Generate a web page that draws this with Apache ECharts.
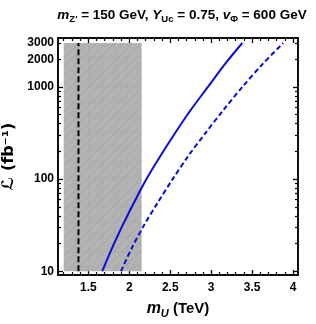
<!DOCTYPE html>
<html>
<head>
<meta charset="utf-8">
<script src="https://cdn.jsdelivr.net/npm/echarts@6/dist/echarts.min.js"></script>
<style>html,body{margin:0;padding:0;background:#fff}#c{width:316px;height:324px}</style>
</head>
<body>
<div id="c"></div>
<script>
// ---- data ----
const solidMass = [1.67, 1.79, 1.92, 2.06, 2.21, 2.38, 2.56, 2.75, 2.96, 3.17, 3.38];
const solidLumi = [10, 17.8, 31.6, 56, 100, 178, 316, 562, 1000, 1780, 3000];
const dashedMass = [1.90, 2.03, 2.18, 2.35, 2.53, 2.72, 2.93, 3.15, 3.38, 3.63, 3.88];
const dashedLumi = [10, 17.8, 31.6, 56, 100, 178, 316, 562, 1000, 1780, 3000];
const refMass = [1.38, 1.38];
const refLumi = [10, 3000];
const excludedMass = [1.2, 2.15];
const excludedLumi = [10, 3000];
const xLabelTicks = [1.5, 2, 2.5, 3, 3.5, 4];
const xMinorTicks = [1.2,1.3,1.4,1.6,1.7,1.8,1.9,2.1,2.2,2.3,2.4,2.6,2.7,2.8,2.9,3.1,3.2,3.3,3.4,3.6,3.7,3.8,3.9];
const yLabelTicks = [10, 100, 1000, 2000, 3000];
const yMajorTicks = [10, 100, 1000];
const yMinorTicks = [20,30,40,50,60,70,80,90,200,300,400,500,600,700,800,900,2000,3000];

const FONT = 'Liberation Sans';
const zip = (a, b) => a.map((v, i) => [v, b[i]]);

const chart = echarts.init(document.getElementById('c'), null, {renderer: 'canvas'});

const xBase = {type: 'value', min: 1.13, max: 4.06, splitLine: {show: false},
  axisLine: {show: true, onZero: false, lineStyle: {color: '#000', width: 1.5}}};
const yBase = {type: 'log', min: 9.1, max: 3400, splitLine: {show: false}, minorTick: {show: false},
  axisLine: {show: true, onZero: false, lineStyle: {color: '#000', width: 1.5}}};
const labelStyle = {color: '#000', fontFamily: FONT, fontWeight: 'bold', fontSize: 12};

const option = {
  animation: false,
  title: {
    left: 177, textAlign: 'center', top: 1,
    text: '{i|m}{s|Z′} = 150 GeV, {i|Y}{s|Uc} = 0.75, {i|v}{s|Φ} = 600 GeV',
    textStyle: {color: '#000', fontFamily: FONT, fontWeight: 'bold', fontSize: 13.5, lineHeight: 18,
      rich: {
        i: {fontFamily: FONT, fontWeight: 'bold', fontStyle: 'italic', fontSize: 13.5, lineHeight: 18, color: '#000'},
        s: {fontFamily: FONT, fontWeight: 'bold', fontSize: 9.5, lineHeight: 10, verticalAlign: 'bottom', color: '#000'}
      }}
  },
  grid: {left: 58, right: 18, top: 38, bottom: 49, containLabel: false, outerBoundsMode: 'none'},
  xAxis: [
    Object.assign({}, xBase, {position: 'bottom',
      name: '{i|m}{s|U} (TeV)', nameLocation: 'middle', nameGap: 24,
      nameTextStyle: {color: '#000', fontFamily: FONT, fontWeight: 'bold', fontSize: 15, lineHeight: 20,
        rich: {
          i: {fontFamily: FONT, fontWeight: 'bold', fontStyle: 'italic', fontSize: 16, lineHeight: 20, color: '#000'},
          s: {fontFamily: FONT, fontWeight: 'bold', fontStyle: 'italic', fontSize: 11, lineHeight: 11, verticalAlign: 'bottom', color: '#000'}
        }},
      axisTick: {show: true, inside: true, length: 5, customValues: xLabelTicks, lineStyle: {color: '#000', width: 1.3}},
      axisLabel: Object.assign({show: true, margin: 7, customValues: xLabelTicks, formatter: v => String(v)}, labelStyle)}),
    Object.assign({}, xBase, {position: 'bottom',
      axisTick: {show: true, inside: true, length: 3, customValues: xMinorTicks, lineStyle: {color: '#000', width: 1.2}},
      axisLabel: {show: false}}),
    Object.assign({}, xBase, {position: 'top',
      axisTick: {show: true, inside: true, length: 5, customValues: xLabelTicks, lineStyle: {color: '#000', width: 1.3}},
      axisLabel: {show: false}}),
    Object.assign({}, xBase, {position: 'top',
      axisTick: {show: true, inside: true, length: 3, customValues: xMinorTicks, lineStyle: {color: '#000', width: 1.2}},
      axisLabel: {show: false}})
  ],
  yAxis: [
    Object.assign({}, yBase, {position: 'left',
      name: 'ℒ (fb⁻¹)', nameLocation: 'middle', nameRotate: 90, nameGap: 30,
      nameTextStyle: {color: '#000', fontFamily: 'DejaVu Sans', fontWeight: 'bold', fontSize: 16},
      axisTick: {show: true, inside: true, length: 5, customValues: yMajorTicks, lineStyle: {color: '#000', width: 1.3}},
      axisLabel: Object.assign({show: true, margin: 4, customValues: yLabelTicks, formatter: v => String(Math.round(v))}, labelStyle)}),
    Object.assign({}, yBase, {position: 'left',
      axisTick: {show: true, inside: true, length: 3, customValues: yMinorTicks, lineStyle: {color: '#000', width: 1.2}},
      axisLabel: {show: false}}),
    Object.assign({}, yBase, {position: 'right',
      axisTick: {show: true, inside: true, length: 5, customValues: yMajorTicks, lineStyle: {color: '#000', width: 1.3}},
      axisLabel: {show: false}}),
    Object.assign({}, yBase, {position: 'right',
      axisTick: {show: true, inside: true, length: 3, customValues: yMinorTicks, lineStyle: {color: '#000', width: 1.2}},
      axisLabel: {show: false}})
  ],
  series: [
    {
      type: 'custom', z: 1, silent: true,
      data: [[excludedMass[0], excludedLumi[0], excludedMass[1], excludedLumi[1]]],
      renderItem: function (params, api) {
        const tl = api.coord([api.value(0), api.value(3)]);
        const br = api.coord([api.value(2), api.value(1)]);
        const L = tl[0], T = tl[1], R = br[0], B = br[1];
        const children = [{type: 'rect', shape: {x: L, y: T, width: R - L, height: B - T},
          style: {fill: '#b3b3b3'}}];
        const lineStyle = {stroke: 'rgba(150,150,150,0.55)', lineWidth: 0.8};
        const gridStyle = {stroke: 'rgba(160,160,160,0.35)', lineWidth: 0.8};
        for (let x = L + 12; x < R; x += 13) children.push({type: 'line', shape: {x1: x, y1: T, x2: x, y2: B}, style: gridStyle});
        for (let y = T + 14; y < B; y += 15) children.push({type: 'line', shape: {x1: L, y1: y, x2: R, y2: y}, style: gridStyle});
        for (let c = L + T + 6; c < R + B; c += 9) {
          let x1 = Math.max(L, c - B), y1 = c - x1;
          let x2 = Math.min(R, c - T), y2 = c - x2;
          if (x2 > x1) children.push({type: 'line', shape: {x1, y1, x2, y2}, style: lineStyle});
        }
        return {type: 'group', children};
      },
      xAxisIndex: 0, yAxisIndex: 0
    },
    {
      type: 'line', z: 3, data: zip(refMass, refLumi), symbol: 'none',
      lineStyle: {color: '#000', width: 2, type: [6, 3]}, xAxisIndex: 0, yAxisIndex: 0
    },
    {
      type: 'line', z: 3, data: zip(solidMass, solidLumi), symbol: 'none', smooth: 0.3,
      lineStyle: {color: '#0a0ad8', width: 2}, xAxisIndex: 0, yAxisIndex: 0
    },
    {
      type: 'line', z: 3, data: zip(dashedMass, dashedLumi), symbol: 'none', smooth: 0.3,
      lineStyle: {color: '#0a0ad8', width: 2, type: [5, 3]}, xAxisIndex: 0, yAxisIndex: 0
    }
  ]
};
chart.setOption(option);
</script>
</body>
</html>
